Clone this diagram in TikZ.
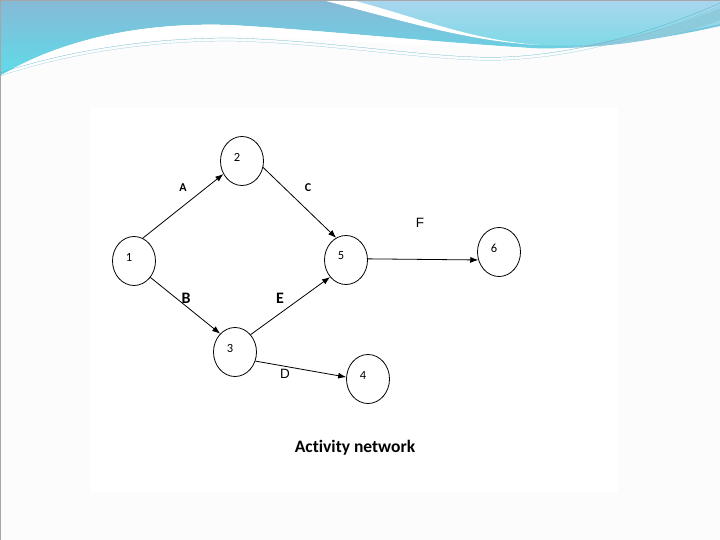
\documentclass[tikz,border=0pt]{standalone}
\usepackage{fontspec}
\setmainfont{Carlito}[Ligatures=CommonOff]
\newfontfamily\arialfont{Liberation Sans}
\usetikzlibrary{arrows.meta, shapes.geometric}

\definecolor{bandtop}{HTML}{86B9D6}
\definecolor{bandlow}{HTML}{5EDCE9}
\definecolor{skyhi}{HTML}{A9D6EE}
\definecolor{skylow}{HTML}{7DDAE6}
\definecolor{swoosh}{HTML}{3FA7C4}
\definecolor{slidebg}{HTML}{FCFCFC}

\tikzset{
  event/.style={ellipse, draw, line width=0.8pt, minimum width=43pt, minimum height=49pt, inner sep=0pt},
  num/.style={font=\fontsize{12.5}{14}\selectfont, xshift=-5pt, yshift=4pt},
  act/.style={-{Latex[length=8pt,width=6pt]}, line width=0.8pt},
  actlabel/.style={font=\fontsize{12}{14}\selectfont\bfseries},
  biglabel/.style={font=\fontsize{16}{18}\selectfont\bfseries},
  plainlabel/.style={font=\arialfont\fontsize{13.5}{15}\selectfont}
}

\begin{document}
\begin{tikzpicture}[x=1pt, y=-1pt]
\useasboundingbox (0,0) rectangle (720,540);
% slide background and picture area
\fill[slidebg] (0,0) rectangle (720,540);
\fill[white] (90,108) rectangle (618,492);
% header waves
\shade[top color=bandtop, bottom color=bandlow]
  (0,0) -- (720,0) -- (720,26) .. controls (640,44) and (570,50) .. (530,48)
  .. controls (430,42) and (320,30) .. (230,25)
  .. controls (140,22) and (60,40) .. (0,76) -- cycle;
\shade[top color=skyhi, bottom color=skylow]
  (352,0) -- (720,0) -- (720,24) .. controls (640,42) and (580,48) .. (540,45)
  .. controls (470,40) and (420,18) .. (352,0) -- cycle;
\fill[white]
  (322,0) -- (352,0) .. controls (420,18) and (470,40) .. (540,45)
  .. controls (470,42) and (400,20) .. (322,0) -- cycle;
\fill[white]
  (0,76) .. controls (60,40) and (140,22) .. (230,25)
  .. controls (320,30) and (430,42) .. (530,48)
  .. controls (420,48) and (320,38) .. (230,36)
  .. controls (140,36) and (60,55) .. (0,80) -- cycle;
\fill[swoosh!60]
  (560,48) .. controls (640,40) and (690,20) .. (720,8) -- (720,20)
  .. controls (690,32) and (640,46) .. (560,48) -- cycle;
\draw[swoosh, very thin] (0,73) .. controls (70,50) and (150,38) .. (230,38)
  .. controls (330,40) and (440,60) .. (505,57)
  .. controls (580,54) and (660,30) .. (720,3);
\draw[swoosh!70, very thin] (0,76) .. controls (70,53) and (150,41) .. (230,41)
  .. controls (330,43) and (440,63) .. (505,60)
  .. controls (580,57) and (660,33) .. (720,6);
\draw[gray!70] (0,0) rectangle (720,540);

% events
\node[event, label={[num]center:1}] (n1) at (134,261) {};
\node[event, label={[num]center:2}] (n2) at (242,161) {};
\node[event, label={[num]center:3}] (n3) at (235,352) {};
\node[event, label={[num]center:4}] (n4) at (368,379) {};
\node[event, label={[num]center:5}] (n5) at (346,260) {};
\node[event, label={[num]center:6}] (n6) at (499,252) {};

% activities
\draw[act] (n1.69) -- (n2.215);
\draw[act] (n2.343) -- (n5.114);
\draw[act] (n1.315) -- (n3.129);
\draw[act] (n3.48) -- (n5.227);
\draw[act] (n3.336) -- (n4.175);
\draw[act] (n5.3) -- (n6.201);

\node[actlabel] (la) at (183,188) {A};
\node[actlabel] (lc) at (308,188) {C};
\node[biglabel] (lb) at (186,298) {B};
\node[biglabel] (le) at (280,298) {E};
\node[plainlabel] (ld) at (285,374) {D};
\node[plainlabel] (lf) at (420,223) {F};

\node[font=\fontsize{17.5}{20}\selectfont\bfseries] (title) at (355,448) {Activity network};
\end{tikzpicture}
\end{document}
